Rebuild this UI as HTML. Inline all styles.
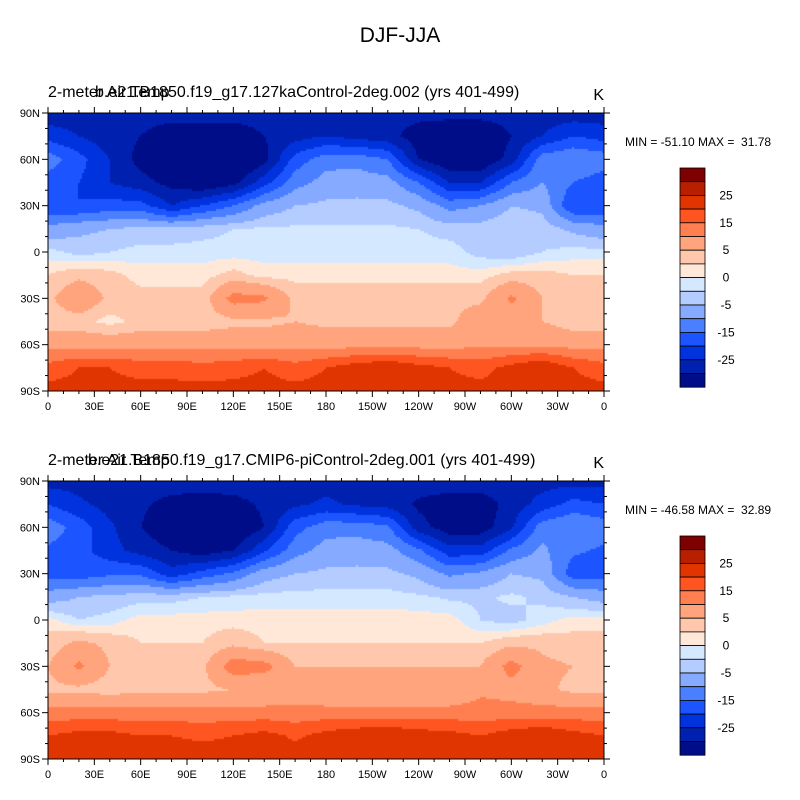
<!DOCTYPE html>
<html><head><meta charset="utf-8">
<style>
body{margin:0;background:#fff;}
#root{position:relative;width:800px;height:800px;overflow:hidden;font-family:"Liberation Sans",sans-serif;color:#000;}
.t{position:absolute;white-space:pre;}
canvas{position:absolute;}
svg{position:absolute;left:0;top:0;}
svg text{white-space:pre;}
</style></head>
<body>
<div id="root">
<div class="t" style="left:0;width:800px;text-align:center;top:24px;font-size:21px;">DJF-JJA</div>
<svg id="ov" width="800" height="800"></svg>
</div>
<script>
const levels = [-30,-25,-20,-15,-10,-5,-2,0,2,5,10,15,20,25,30];
const colors = ["#000d88","#0020b0","#0033dd","#1c55ff","#4a80ff","#86aaff","#b4ccff","#d4e8ff","#ffe8d8","#ffc8ac","#ffa47c","#ff7f50","#ff5520","#e03500","#b81e00","#7f0000"];
const cbLabels = ["25","15","5","0","-5","-15","-25"];
const cbLabelIdx = [2,4,6,8,10,12,14];
const gridLats = [90,75,60,45,30,15,0,-15,-30,-45,-60,-75,-90];
const gridLons = [0,20,40,60,80,100,120,140,160,180,200,220,240,260,280,300,320,340];
const latTicks = ["90N","60N","30N","0","30S","60S","90S"];
const lonTicks = ["0","30E","60E","90E","120E","150E","180","150W","120W","90W","60W","30W","0"];

const valuesTop = [
[-28,-28,-28,-28,-28,-28,-28,-28,-28,-28,-28,-28,-28,-28,-28,-28,-28,-28],
[-22,-25,-28,-30,-33,-33,-33,-30,-27,-25,-27,-28,-33,-35,-35,-30,-25,-20],
[-12,-18,-25,-32,-35,-38,-38,-32,-18,-12,-12,-15,-30,-35,-35,-28,-12,-10],
[-18,-20,-25,-28,-32,-35,-32,-22,-12,-8,-7,-8,-15,-25,-25,-15,-10,-15],
[-20,-20,-18,-18,-25,-20,-15,-8,-5,-4,-4,-4,-6,-12,-10,-5,-6,-20],
[-8,-6,-5,-4,-4,-3,-2,-1.5,-1.5,-1.5,-1.5,-1.5,-2,-3,-3,-2,-3,-6],
[-1,-3,-2,-1,-1,-1,-1,-1,-1,-1,-1,-1,-1,-1,-3,-4,-2,-1],
[2,4,3,1,1,1,3,1,1,1,1,1,1,1,1,3,3,2],
[4,9,4,3,3,3,12,11,4,4,4,4,4,4,4,11,5,4],
[3,3,1,3,3,3,4,4,5,4,4,4,4,4,8,7,5,3],
[8,8,8,8,8,8,8,8,8,8,8,8,8,8,9,9,9,8],
[17,20,20,18,18,17,18,20,17,20,23,25,22,20,18,22,25,20],
[22,22,22,22,22,22,22,22,22,22,22,22,22,22,22,22,22,22]
];
const valuesBottom = [
[-27,-27,-27,-27,-27,-27,-27,-27,-27,-27,-27,-27,-27,-27,-27,-27,-27,-27],
[-20,-24,-27,-29,-32,-33,-32,-29,-26,-24,-26,-27,-31,-33,-33,-28,-23,-18],
[-12,-17,-24,-30,-34,-36,-36,-30,-17,-12,-12,-14,-28,-33,-33,-26,-12,-10],
[-16,-18,-23,-27,-30,-33,-30,-21,-12,-8,-7,-8,-14,-23,-23,-14,-9,-14],
[-18,-18,-16,-16,-23,-18,-14,-7,-5,-4,-4,-4,-6,-11,-9,-5,-6,-18],
[-7,-5,-4,-3,-3,-2,-1.5,-1,-1,-1,-1,-1,-1.5,-2.5,-2.5,-1.5,-2.5,-5],
[1,-2,-1,1,1,1,1,1,1,1,1,1,1,1,-2,-3,-1,1],
[3,6,4,2,2,2,4,2,2,2,2,2,2,2,2,4,4,3],
[5,11,5,4,4,4,13,12,5,5,5,5,5,5,5,12,6,5],
[4,4,3,4,4,4,5,5,6,5,5,5,5,5,9,8,6,4],
[12,12,12,12,12,12,12,12,12,12,12,12,12,12,12,12,12,12],
[20,22,22,20,20,19,20,22,19,22,24,25,23,22,20,23,25,22],
[23,23,23,23,23,23,23,23,23,23,23,23,23,23,23,23,23,23]
];

const root = document.getElementById('root');
const ov = document.getElementById('ov');
const NS = "http://www.w3.org/2000/svg";
const X0=48, X1=604, MW=X1-X0, MH=278;

function colorFor(v){let i=0;while(i<levels.length&&v>=levels[i])i++;return colors[i];}
function sample(vals,lat,lon){
  lon=((lon%360)+360)%360;
  let r=(90-lat)/15; let r0=Math.min(Math.floor(r),11); let fr=r-r0;
  let c=lon/20; let c0=Math.floor(c)%18; let fc=c-Math.floor(c); let c1=(c0+1)%18;
  const a=vals[r0][c0]*(1-fc)+vals[r0][c1]*fc;
  const b=vals[r0+1][c0]*(1-fc)+vals[r0+1][c1]*fc;
  return a*(1-fr)+b*fr;
}
function addText(x,y,s,size,anchor,name){
  const t=document.createElementNS(NS,'text');
  t.setAttribute('x',x);t.setAttribute('y',y);t.setAttribute('font-size',size);
  t.setAttribute('text-anchor',anchor||'start');t.setAttribute('font-family','Liberation Sans, sans-serif');
  t.setAttributeNS('http://www.w3.org/XML/1998/namespace','xml:space','preserve');
  t.textContent=s;
  
  
  ov.appendChild(t);return t;
}
function line(x1,y1,x2,y2,w){
  const l=document.createElementNS(NS,'line');
  l.setAttribute('x1',x1);l.setAttribute('y1',y1);l.setAttribute('x2',x2);l.setAttribute('y2',y2);
  l.setAttribute('stroke','#000');l.setAttribute('stroke-width',w||1);
  
  
  ov.appendChild(l);
}
function panel(Y0,vals,caseName,minmax,prefix){
  const cv=document.createElement('canvas');
  cv.width=MW;cv.height=MH;cv.style.left=X0+'px';cv.style.top=Y0+'px';
  
  
  root.insertBefore(cv,ov);
  const ctx=cv.getContext('2d');
  const s=2;
  for(let y=0;y<MH;y+=s){for(let x=0;x<MW;x+=s){
    const lat=90-(y+s/2)/MH*180, lon=(x+s/2)/MW*360;
    ctx.fillStyle=colorFor(sample(vals,lat,lon));ctx.fillRect(x,y,s,s);
  }}
  const fr=document.createElementNS(NS,'rect');
  fr.setAttribute('x',X0);fr.setAttribute('y',Y0);fr.setAttribute('width',MW);fr.setAttribute('height',MH);
  fr.setAttribute('fill','none');fr.setAttribute('stroke','#000');
  
  
  ov.appendChild(fr);
  for(let d=0;d<=360;d+=10){const x=X0+d/360*MW;const L=d%30===0?6:3;line(x,Y0,x,Y0-L);line(x,Y0+MH,x,Y0+MH+L);}
  for(let d=0;d<=180;d+=10){const y=Y0+d/180*MH;const L=d%30===0?6:3;line(X0,y,X0-L,y);line(X1,y,X1+L,y);}
  latTicks.forEach((s,i)=>addText(X0-8,Y0+i*30/180*MH+4,s,11,'end',prefix+'-lat-label'));
  lonTicks.forEach((s,i)=>addText(X0+i*30/360*MW,Y0+MH+19,s,11,'middle',prefix+'-lon-label'));
  addText(X0,Y0-16,"2-meter Air Temp",16,'start',prefix+'-variable-title');
  addText(caseName[1],Y0-16,caseName[0],16,'start',prefix+'-case-title');
  addText(604,Y0-13,"K",16,'end',prefix+'-units');
  addText(625,Y0+33,minmax,12,'start',prefix+'-min-max');
  const cbY=Y0+55, bh=13.7;
  for(let i=0;i<colors.length;i++){
    const r=document.createElementNS(NS,'rect');
    r.setAttribute('x',680);r.setAttribute('y',cbY+i*bh);r.setAttribute('width',25);r.setAttribute('height',bh);
    r.setAttribute('fill',colors[colors.length-1-i]);r.setAttribute('stroke','#000');r.setAttribute('stroke-width',0.8);
    
    
    ov.appendChild(r);
  }
  cbLabels.forEach((s,i)=>addText(726,cbY+cbLabelIdx[i]*bh+4,s,12,'middle',prefix+'-colorbar-label'));
}
panel(113,valuesTop,["b.e21.B1850.f19_g17.127kaControl-2deg.002 (yrs 401-499)",95],"MIN = -51.10 MAX =  31.78","top");
panel(481,valuesBottom,["b.e21.B1850.f19_g17.CMIP6-piControl-2deg.001 (yrs 401-499)",88],"MIN = -46.58 MAX =  32.89","bottom");
</script>
</body></html>
